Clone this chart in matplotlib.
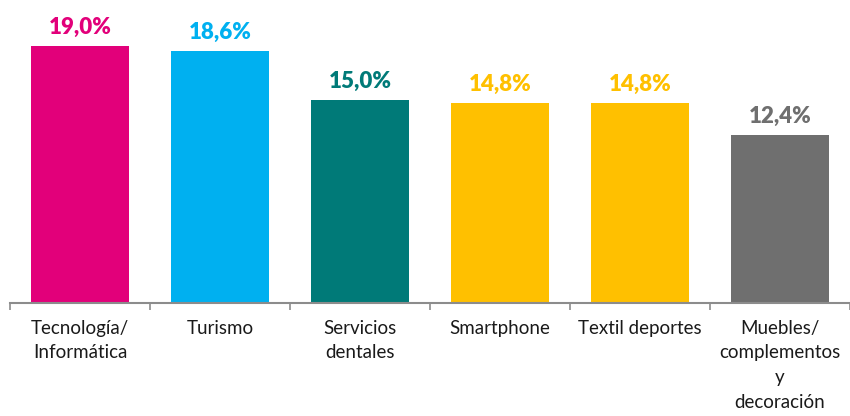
import matplotlib
matplotlib.use("Agg")
import matplotlib.pyplot as plt
import numpy as np

# data
categories = ["Tecnología/\nInformática", "Turismo", "Servicios\ndentales",
              "Smartphone", "Textil deportes", "Muebles/\ncomplementos\ny\ndecoración"]
values = [19.0, 18.6, 15.0, 14.8, 14.8, 12.4]
colors = ["#E2007A", "#00B0F0", "#007A78", "#FFC000", "#FFC000", "#6F6F6F"]

plt.rcParams['font.family'] = ['Lato', 'DejaVu Sans']

fig = plt.figure(figsize=(8.5, 4.16), dpi=100)
ax = fig.add_axes([10 / 850, 113 / 416, 840 / 850, 303 / 416])

x = np.arange(len(values))
ax.bar(x, values, width=0.7, color=colors)

for xi, v, c in zip(x, values, colors):
    ax.text(xi, v + 0.6, f"{v:.1f}%".replace(".", ","), ha="center", va="bottom",
            color=c, fontsize=16, fontweight="heavy")

ax.set_xlim(-0.5, len(values) - 0.5)
ax.set_ylim(0, 22.4)
ax.set_yticks([])
ax.set_xticks(x)
ax.set_xticklabels(categories, fontsize=13.5, color="#1a1a1a", linespacing=1.55)
ax.set_xticks(np.arange(len(values) + 1) - 0.5, minor=True)
ax.tick_params(axis="x", which="major", length=0, pad=12)
ax.tick_params(axis="x", which="minor", length=5, color="#8c8c8c", width=1.2)

for s in ["top", "right", "left"]:
    ax.spines[s].set_visible(False)
ax.spines["bottom"].set_color("#8c8c8c")
ax.spines["bottom"].set_linewidth(1.5)

fig.savefig("out.png", dpi=100)
